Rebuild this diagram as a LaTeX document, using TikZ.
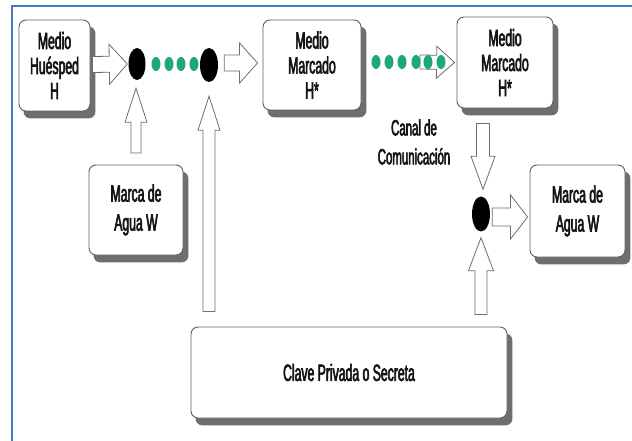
\documentclass[tikz,border=0pt]{standalone}
\usepackage{fontspec}
\setmainfont{Liberation Sans}[FakeStretch=0.52, FakeBold=2.5]
\usetikzlibrary{calc,shapes.geometric}

\definecolor{framecol}{RGB}{70,120,200}
\definecolor{boxline}{RGB}{95,95,95}
\definecolor{arrowline}{RGB}{110,110,110}
\definecolor{bead}{RGB}{30,168,120}
\definecolor{txt}{RGB}{20,20,20}
\definecolor{shadowcol}{RGB}{110,110,110}

\pgfdeclarelayer{background}
\pgfsetlayers{background,main}

\tikzset{
  box/.style={draw=boxline, line width=0.9pt, rounded corners=7pt, fill=white,
    align=center, text=txt, inner sep=0pt},
  topbox/.style={box, font=\fontsize{23.5}{25}\selectfont},
  wbox/.style={box, font=\fontsize{23.5}{29}\selectfont},
  joint/.style={ellipse, fill=black, inner sep=0pt},
  beadstyle/.style={ellipse, fill=bead, inner sep=0pt, minimum width=9pt, minimum height=14pt},
  boxshadow/.style={fill=shadowcol, rounded corners=7pt},
  % block arrow sizes: shaft half width, head half width, head length
  ba size/.code n args={3}{\def\basw{#1}\def\bahw{#2}\def\bahl{#3}},
  ba size={8pt}{20pt}{18pt},
  blockarrow/.style={draw=arrowline, line width=0.8pt, fill=white, line join=miter,
    to path={
      let \p1=(\tikztostart), \p2=(\tikztotarget), \p3=($(\p2)!\bahl!(\p1)$) in
      ($(\p1)!\basw!90:(\p2)$) -- ($(\p3)!\basw!-90:(\p1)$) -- ($(\p3)!\bahw!-90:(\p1)$)
      -- (\p2) -- ($(\p3)!\bahw!90:(\p1)$) -- ($(\p3)!\basw!90:(\p1)$)
      -- ($(\p1)!\basw!-90:(\p2)$) -- cycle}},
  chanlabel/.style={text=txt, font=\fontsize{22}{29}\selectfont, align=center}
}

\begin{document}
\begin{tikzpicture}[x=1pt, y=-1pt]
\useasboundingbox (0,0) rectangle (632,441);
\begin{pgfonlayer}{background}
\fill[white] (0,0) rectangle (632,441);
\end{pgfonlayer}

% outer frame
\draw[framecol, line width=2pt] (12,441) -- (12,6) -- (632,6);

% boxes
\node[topbox, minimum width=71pt, minimum height=91pt] (host) at (54.5,65.5) {Medio\\Huésped\\H};
\node[topbox, minimum width=98pt, minimum height=90pt] (marked1) at (312,65) {Medio\\Marcado\\H*};
\node[topbox, minimum width=96pt, minimum height=91pt] (marked2) at (505,62.5) {Medio\\Marcado\\H*};
\node[wbox, minimum width=94pt, minimum height=90pt] (wm1) at (136,210) {Marca de\\Agua W};
\node[wbox, minimum width=95pt, minimum height=92pt] (wm2) at (577.5,211) {Marca de\\Agua W};
\node[box, font=\fontsize{23.5}{25}\selectfont, minimum width=316pt, minimum height=91pt] (key) at (349,372.5) {Clave Privada o Secreta};

% drop shadows under the boxes
\begin{pgfonlayer}{background}
\foreach \b in {host,marked1,marked2,wm1,wm2,key}
  \fill[boxshadow] ($(\b.south west)+(5,7)$) rectangle ($(\b.north east)+(5,7)$);
\end{pgfonlayer}

% joints
\node[joint, minimum width=17pt, minimum height=32pt] (j1) at (137,64) {};
\node[joint, minimum width=18pt, minimum height=34pt] (j2) at (209,65) {};
\node[joint, minimum width=18pt, minimum height=35pt] (j3) at (481,214) {};

% beads between the embedding joints
\foreach \i/\x in {1/156,2/169,3/181,4/194}
  \node[beadstyle] (b\i) at (\x,64) {};

% free ends of the block arrows
\coordinate (a1s) at ($(host.east)+(2,-1)$);
\coordinate (a1e) at ($(j1.west)+(-1,0)$);
\coordinate (a2s) at ($(j2.east)+(6,-2)$);
\coordinate (a2e) at ($(marked1.west)+(-5,-2)$);
\coordinate (a3s) at (420,62);
\coordinate (a3e) at ($(marked2.west)+(-2,0)$);
\coordinate (u1s) at (136,153);
\coordinate (u1e) at ($(j1.south)+(-1,8)$);
\coordinate (u2s) at ($(key.north)+(-140,-15)$);
\coordinate (u2e) at ($(j2.south)+(0,14)$);
\coordinate (d1s) at ($(marked2.south)+(-22,15)$);
\coordinate (d1e) at ($(j3.north)+(2,-7)$);
\coordinate (u3s) at ($(key.north)+(132,-12)$);
\coordinate (u3e) at ($(j3.south)+(0,6)$);
\coordinate (r1s) at ($(j3.east)+(2,3)$);
\coordinate (r1e) at ($(wm2.west)+(-2,6)$);

% horizontal block arrows
\draw[blockarrow] (a1s) to (a1e);
\draw[blockarrow] (a2s) to (a2e);
\draw[blockarrow, ba size={7pt}{16pt}{18pt}] (a3s) to (a3e);
\draw[blockarrow, ba size={9pt}{22pt}{17pt}] (r1s) to (r1e);

% vertical block arrows
\draw[blockarrow, ba size={5pt}{11pt}{34pt}] (u1s) to (u1e);
\draw[blockarrow, ba size={6pt}{11pt}{34pt}] (u2s) to (u2e);
\draw[blockarrow, ba size={6.5pt}{12pt}{33pt}] (d1s) to (d1e);
\draw[blockarrow, ba size={6pt}{12.5pt}{33pt}] (u3s) to (u3e);

% beads of the communication channel
\foreach \i/\x in {1/376,2/389,3/402,4/416,5/428,6/441}
  \node[beadstyle] (c\i) at (\x,62) {};

% channel label
\node[chanlabel] (canal) at (414,142) {Canal de\\Comunicación};
\end{tikzpicture}
\end{document}
